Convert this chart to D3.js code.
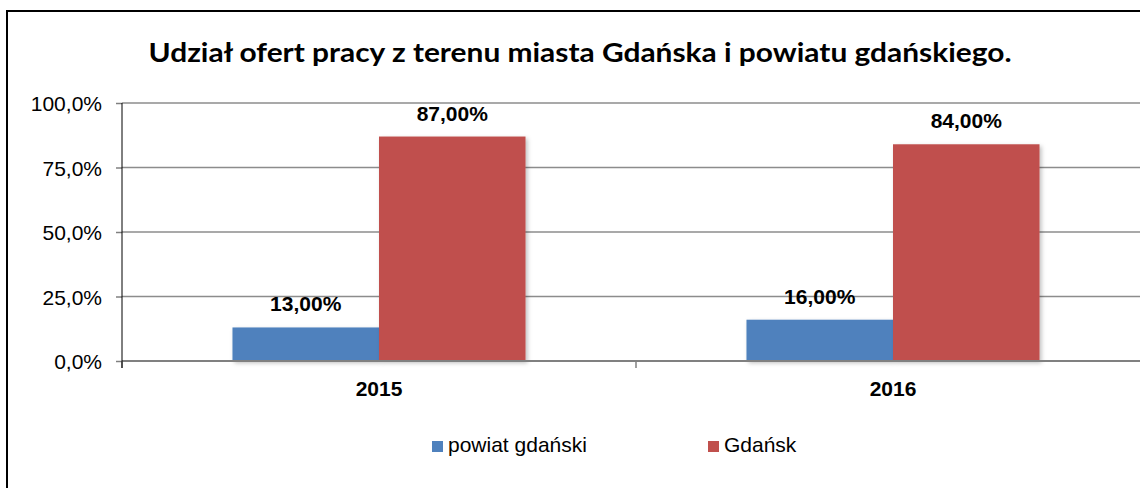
<!DOCTYPE html>
<html>
<head>
<meta charset="utf-8">
<script src="https://cdn.jsdelivr.net/npm/d3@7"></script>
<style>
  body { margin: 0; background: #fff; }
  svg { display: block; }
</style>
</head>
<body>
<div id="chart"></div>
<script>
let years = ["2015", "2016"]
let seriesNames = ["powiat gdański", "Gdańsk"]
let powiatValues = [0.13, 0.16]
let gdanskValues = [0.87, 0.84]
let yTicks = [0, 0.25, 0.5, 0.75, 1]
let colors = ["#4F81BD", "#C0504D"]

let width = 1140
let height = 488
let margin = { top: 103, left: 122, right: -10, bottom: 127 }

let data = years.map((y, i) => ({
    year: y,
    values: [
        { name: seriesNames[0], value: powiatValues[i] },
        { name: seriesNames[1], value: gdanskValues[i] }
    ]
}))

let pl = d3.formatLocale({ decimal: ",", thousands: " ", grouping: [3], currency: ["", " zł"] })
let tickFmt = pl.format(".1%")
let labelFmt = pl.format(".2%")

let svg = d3.select("#chart").append("svg")
    .attr("width", width)
    .attr("height", height)

let defs = svg.append("defs")
defs.append("filter").attr("id", "shadow")
    .attr("x", "-10%").attr("y", "-10%").attr("width", "130%").attr("height", "130%")
    .append("feDropShadow")
    .attr("dx", 2).attr("dy", 2).attr("stdDeviation", 2)
    .attr("flood-color", "#000").attr("flood-opacity", 0.25)

// outer frame (right and bottom edges run off the picture)
svg.append("rect")
    .attr("x", 7).attr("y", 11)
    .attr("width", 1160).attr("height", 520)
    .attr("fill", "none")
    .attr("stroke", "#000")
    .attr("stroke-width", 2)

svg.append("text")
    .attr("x", 580)
    .attr("y", 62)
    .attr("text-anchor", "middle")
    .attr("font-family", "Lato, 'Open Sans', sans-serif")
    .attr("font-weight", 700)
    .attr("font-size", 27)
    .attr("textLength", 863)
    .attr("lengthAdjust", "spacingAndGlyphs")
    .text("Udział ofert pracy z terenu miasta Gdańska i powiatu gdańskiego.")

let x = d3.scaleBand()
    .domain(years)
    .range([margin.left, width - margin.right])

let xs = d3.scaleBand()
    .domain(seriesNames)
    .range([0, x.bandwidth()])
    .paddingOuter(0.754)

let y = d3.scaleLinear()
    .domain([0, 1])
    .range([height - margin.bottom, margin.top])

// gridlines
svg.append("g")
    .selectAll("line")
    .data(yTicks.filter(d => d > 0))
    .join("line")
    .attr("x1", margin.left)
    .attr("x2", width)
    .attr("y1", d => y(d))
    .attr("y2", d => y(d))
    .attr("stroke", "#8c8c8c")
    .attr("stroke-width", 1.5)

// bars
let groups = svg.append("g")
    .selectAll("g")
    .data(data)
    .join("g")
    .attr("transform", d => `translate(${x(d.year)},0)`)

groups.selectAll("rect")
    .data(d => d.values)
    .join("rect")
    .attr("x", d => xs(d.name))
    .attr("y", d => y(d.value))
    .attr("width", xs.bandwidth())
    .attr("height", d => y(0) - y(d.value))
    .attr("fill", (d, i) => colors[i])
    .attr("filter", "url(#shadow)")

groups.selectAll("text")
    .data(d => d.values)
    .join("text")
    .attr("x", d => xs(d.name) + xs.bandwidth() / 2)
    .attr("y", d => y(d.value) - 16)
    .attr("text-anchor", "middle")
    .attr("font-family", "Arial, 'Liberation Sans', sans-serif")
    .attr("font-weight", 700)
    .attr("font-size", 21)
    .text(d => labelFmt(d.value))

// x baseline
svg.append("line")
    .attr("x1", margin.left)
    .attr("x2", width)
    .attr("y1", y(0))
    .attr("y2", y(0))
    .attr("stroke", "#808080")
    .attr("stroke-width", 2)

// x ticks at category boundaries
let bounds = years.map(d => x(d)).concat([x(years[years.length - 1]) + x.bandwidth()])
svg.append("g")
    .selectAll("line")
    .data(bounds)
    .join("line")
    .attr("x1", d => d)
    .attr("x2", d => d)
    .attr("y1", y(0))
    .attr("y2", y(0) + 7)
    .attr("stroke", "#808080")
    .attr("stroke-width", 1.5)

// y axis
let yAxis = d3.axisLeft(y)
    .tickValues(yTicks)
    .tickFormat(tickFmt)
    .tickSize(6)
    .tickPadding(14)
    .tickSizeOuter(0)

let ya = svg.append("g")
    .attr("transform", `translate(${margin.left},0)`)
    .call(yAxis)
ya.select(".domain").remove()
ya.selectAll(".tick line").attr("stroke", "#808080").attr("stroke-width", 1.5)
ya.selectAll("text")
    .attr("font-family", "Arial, 'Liberation Sans', sans-serif")
    .attr("font-size", 21)
    .attr("fill", "#000")
    .attr("dy", "0.36em")

svg.append("line")
    .attr("x1", margin.left)
    .attr("x2", margin.left)
    .attr("y1", y(1))
    .attr("y2", y(0) + 7)
    .attr("stroke", "#000")
    .attr("stroke-width", 1)

// category labels
svg.append("g")
    .selectAll("text")
    .data(years)
    .join("text")
    .attr("x", d => x(d) + xs(seriesNames[1]))
    .attr("y", 396)
    .attr("text-anchor", "middle")
    .attr("font-family", "Arial, 'Liberation Sans', sans-serif")
    .attr("font-weight", 700)
    .attr("font-size", 21)
    .text(d => d)

// legend
let legendX = [432, 708]
let legend = svg.append("g")
    .selectAll("g")
    .data(seriesNames)
    .join("g")
    .attr("transform", (d, i) => `translate(${legendX[i]},441)`)

legend.append("rect")
    .attr("width", 11)
    .attr("height", 11)
    .attr("fill", (d, i) => colors[i])

legend.append("text")
    .attr("x", 16)
    .attr("y", 11)
    .attr("font-family", "Arial, 'Liberation Sans', sans-serif")
    .attr("font-size", 21)
    .text(d => d)
</script>
</body>
</html>
